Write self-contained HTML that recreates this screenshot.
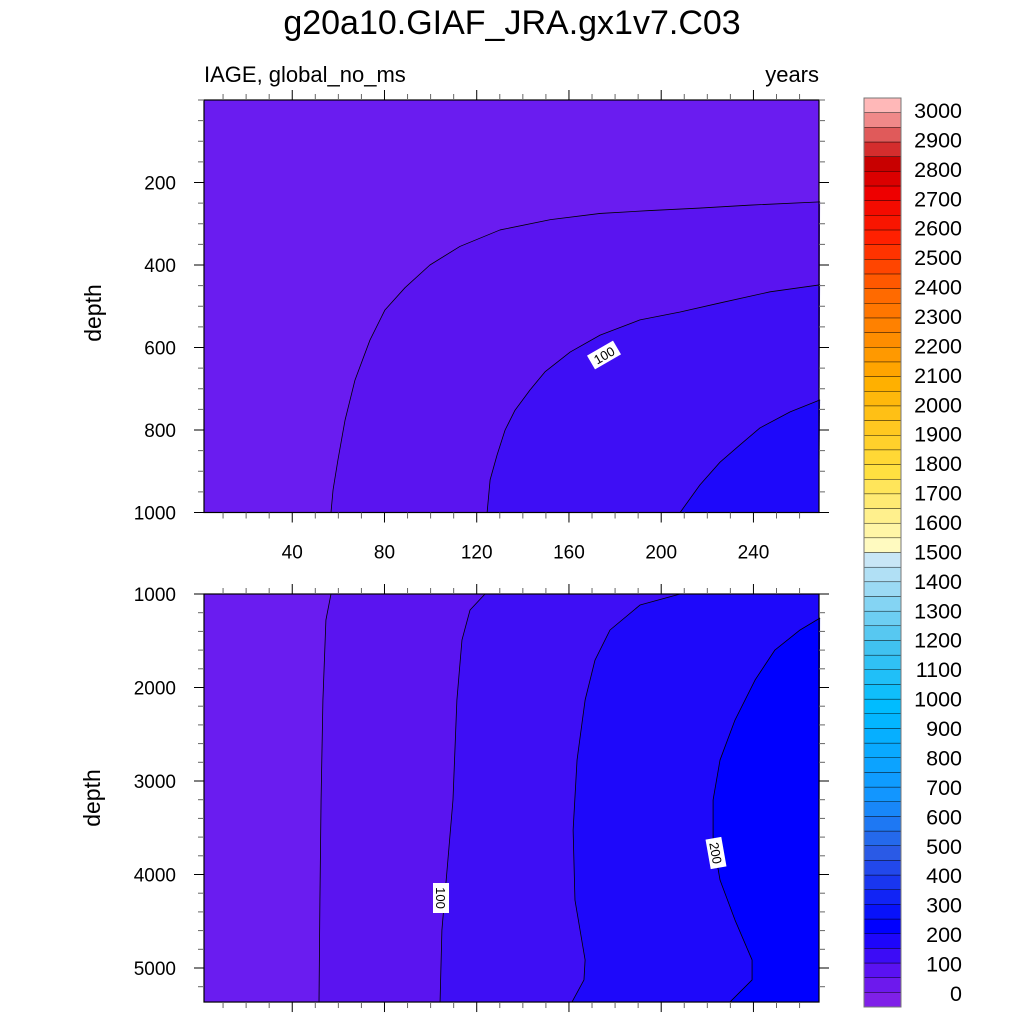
<!DOCTYPE html>
<html><head><meta charset="utf-8"><style>
html,body{margin:0;padding:0;background:#fff;}
svg{display:block;font-family:"Liberation Sans",sans-serif;}
</style></head><body>
<svg id="chart" width="1024" height="1024" viewBox="0 0 1024 1024">
<text x="512" y="34" font-size="34" text-anchor="middle">g20a10.GIAF_JRA.gx1v7.C03</text>
<text x="204" y="82" font-size="22">IAGE, global_no_ms</text>
<text x="819" y="82" font-size="22" text-anchor="end">years</text>
<g id="top"></g>
<g id="bot"></g>
<g id="cbar"></g>
<text transform="translate(101,313) rotate(-90)" font-size="23" text-anchor="middle">depth</text>
<text transform="translate(100,798) rotate(-90)" font-size="23" text-anchor="middle">depth</text>
</svg>
<script>
// ---- data ----
const bandLevels = [0, 50, 100, 150, 200];
// top panel contours (year, depth)
const top50Years = [268.9,238,216.8,195,173.5,152,130.1,112.7,99.7,88.9,80.2,73.7,67.2,62.9,59.8,57.7,56.8];
const top50Depths = [247,255,262,268,275,290,315,355,400,455,509,582,679,776,873,945,1000];
const top100Years = [268.9,247.2,225.5,208.2,190.8,173.5,160.5,149.6,143.1,136.6,132.3,128.8,125.8,124.5];
const top100Depths = [448,465,492,514,533,570,611,659,703,752,800,861,921,1000];
const top150Years = [268.9,255.9,242.8,234.2,225.5,216.8,208.2];
const top150Depths = [727,756,795,836,878,933,1000];
// bottom panel contours
const bot50Years = [56.8,54.6,53.3,52.5,52.0,51.6];
const bot50Depths = [1000,1278,2134,3203,4273,5364];
const bot100Years = [123.6,117.1,113.6,111.4,109.7,107.5,104.9,104.1];
const bot100Depths = [1000,1171,1492,2134,3203,3845,4594,5364];
const bot150Years = [208.2,190.8,177.8,171.3,167,163.5,161.8,162.6,167,166.5,161.3];
const bot150Depths = [1000,1118,1385,1706,2134,2776,3525,4273,4914,5128,5364];
const bot200Years = [268.9,260.2,249.3,240.7,232,225.5,222.5,222.5,225.5,232,239.4,239.4,229.8];
const bot200Depths = [1257,1385,1599,1920,2348,2776,3203,3631,4059,4487,4914,5128,5364];
const xTicks = [40,80,120,160,200,240];
const topYTicks = [200,400,600,800,1000];
const botYTicks = [1000,2000,3000,4000,5000];
const cbarLabels = [3000,2900,2800,2700,2600,2500,2400,2300,2200,2100,2000,1900,1800,1700,1600,1500,1400,1300,1200,1100,1000,900,800,700,600,500,400,300,200,100,0];

const NS="http://www.w3.org/2000/svg";
function mk(tag, attrs, parent){const e=document.createElementNS(NS,tag);for(const k in attrs)e.setAttribute(k,attrs[k]);parent.appendChild(e);return e;}
const X0=204,X1=819, xmin=1.7, xmax=269;
const xs = v => 200 + 2.306*v;
const ysTop = d => 100 + 0.4125*d;
const ysBot = d => 594 + 0.0935*(d-1000);
const bandColors = ['#6a1cf0','#5a14f0','#3e0ef5','#1e08fa','#0000ff'];

function panel(g, ys, dmin, dmax, contours, yTicks, minorStep, showXLabels){
  const Y0=ys(dmin), Y1=ys(dmax);
  const r=mk('rect',{x:X0,y:Y0,width:X1-X0,height:Y1-Y0,fill:bandColors[0]},g);
  
  
  contours.forEach((c,i)=>{
    let pts=c.years.map((v,j)=>[xs(v),ys(c.depths[j])]);
    let poly=pts.slice();
    poly.push([X1,Y1]);
    if(c.wrap) poly.push([X1,Y0]);
    const p=mk('polygon',{points:poly.map(q=>q.join(',')).join(' '),fill:bandColors[i+1]},g);
    
    
  });
  contours.forEach(c=>{
    const pts=c.years.map((v,j)=>xs(v)+','+ys(c.depths[j])).join(' ');
    const l=mk('polyline',{points:pts,fill:'none',stroke:'#000','stroke-width':0.8,'stroke-linejoin':'round'},g);
    
    
  });
  const fr=mk('rect',{x:X0,y:Y0,width:X1-X0,height:Y1-Y0,fill:'none',stroke:'#000','stroke-width':1.2},g);
  
  
  for(let v=10; v<=xmax; v+=10){
    const x=xs(v); if(x<X0||x>X1) continue;
    const major=v%40===0, L=major?10:6, col=major?'#000':'#666';
    mk('line',{x1:x,y1:Y0,x2:x,y2:Y0-L,stroke:col,'stroke-width':1},g);
    mk('line',{x1:x,y1:Y1,x2:x,y2:Y1+L,stroke:col,'stroke-width':1},g);
  }
  for(let d=Math.ceil(dmin/minorStep)*minorStep; d<=dmax; d+=minorStep){
    const y=ys(d); if(y<Y0-0.5||y>Y1+0.5) continue;
    const major=yTicks.includes(d), L=major?10:6, col=major?'#000':'#666';
    mk('line',{x1:X0,y1:y,x2:X0-L,y2:y,stroke:col,'stroke-width':1},g);
    mk('line',{x1:X1,y1:y,x2:X1+L,y2:y,stroke:col,'stroke-width':1},g);
  }
  yTicks.forEach(d=>{
    const t=mk('text',{x:176,y:ys(d)+7,'font-size':19,'text-anchor':'end'},g);
    t.textContent=d;
    
    
  });
  if(showXLabels) xTicks.forEach(v=>{
    const t=mk('text',{x:xs(v),y:Y1+46,'font-size':19,'text-anchor':'middle'},g);
    t.textContent=v;
    
    
  });
}
function label(g,x,y,rot,txt){
  const gg=mk('g',{transform:`translate(${x},${y}) rotate(${rot})`},g);
  
  
  mk('rect',{x:-15,y:-8,width:30,height:16,fill:'#fff'},gg);
  const t=mk('text',{x:0,y:5,'font-size':13,'text-anchor':'middle'},gg);
  t.textContent=txt;
}
const topG=document.getElementById('top'), botG=document.getElementById('bot');
panel(topG, ysTop, 0, 1000, [
  {level:50,years:top50Years,depths:top50Depths},
  {level:100,years:top100Years,depths:top100Depths},
  {level:150,years:top150Years,depths:top150Depths}], topYTicks, 50, true);
label(topG, 604, 355, -30, '100');
panel(botG, ysBot, 1000, 5364, [
  {level:50,years:bot50Years,depths:bot50Depths,wrap:true},
  {level:100,years:bot100Years,depths:bot100Depths,wrap:true},
  {level:150,years:bot150Years,depths:bot150Depths,wrap:true},
  {level:200,years:bot200Years,depths:bot200Depths}], botYTicks, 200, false);
label(botG, 441, 898, 90, '100');
label(botG, 716, 853, 80, '200');

const cb=document.getElementById('cbar');
const anchors=[[0,'#7f20e8'],[2,'#5a12f2'],[5,'#0000ff'],[10,'#2a5ae6'],[14,'#1296ff'],[20,'#00bcff'],[24,'#40c2f0'],[30,'#c8e6f6'],[31,'#fffac0'],[36,'#ffe040'],[42,'#ffb000'],[48,'#ff6a00'],[52,'#ff2000'],[55,'#ee0000'],[57,'#c80000'],[59,'#e05a5a'],[61,'#ffb8b8']];
function lerpc(a,b,t){const pa=[1,3,5].map(i=>parseInt(a.substr(i,2),16)),pb=[1,3,5].map(i=>parseInt(b.substr(i,2),16));return 'rgb('+pa.map((v,i)=>Math.round(v+(pb[i]-v)*t)).join(',')+')';}
function colAt(k){for(let i=0;i<anchors.length-1;i++){if(k>=anchors[i][0]&&k<=anchors[i+1][0]){return lerpc(anchors[i][1],anchors[i+1][1],(k-anchors[i][0])/(anchors[i+1][0]-anchors[i][0]));}}return anchors[anchors.length-1][1];}
const NB=62, CT=98, CB=1007, bh=(CB-CT)/NB;
for(let k=0;k<NB;k++){
  const r=mk('rect',{x:864,y:CB-(k+1)*bh,width:37,height:bh,fill:colAt(k),stroke:'#000','stroke-width':0.4},cb);
  
  
}
mk('rect',{x:864,y:CT,width:37,height:CB-CT,fill:'none',stroke:'#777','stroke-width':1},cb);
cbarLabels.forEach((v,i)=>{
  const t=mk('text',{x:962,y:110+i*29.43+8,'font-size':21.5,'text-anchor':'end'},cb);
  t.textContent=v;
  
  
});
</script>
</body></html>
